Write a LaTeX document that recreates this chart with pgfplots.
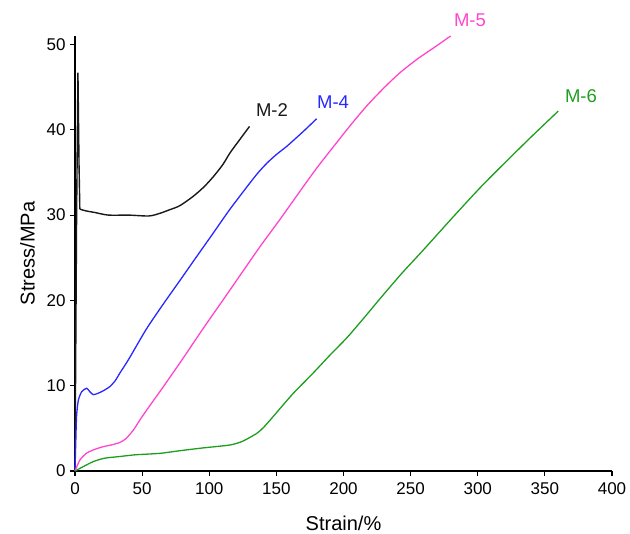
\documentclass[border=0pt]{standalone}
\usepackage{fontspec}
\setmainfont{Liberation Sans}
\usepackage{pgfplots}
\pgfplotsset{compat=1.18}

\definecolor{mtwo}{RGB}{25,25,25}
\definecolor{mfour}{RGB}{40,40,255}
\definecolor{mfive}{RGB}{255,70,205}
\definecolor{msix}{RGB}{30,158,30}

\begin{document}
\begin{tikzpicture}
  \begin{axis}[
      scale only axis,
      width=537pt,
      height=435pt,
      xmin=0, xmax=400,
      ymin=0, ymax=51,
      axis x line*=bottom,
      axis y line*=left,
      axis line style={line width=1.3pt},
      xtick={0,50,...,400},
      ytick={0,10,...,50},
      tick align=outside,
      major tick length=5pt,
      tick style={line width=1.2pt, black},
      /pgf/number format/assume math mode=true,
      ticklabel style={font=\fontsize{17}{20}\selectfont},
      xticklabel style={yshift=-3pt},
      yticklabel style={xshift=-1pt},
      label style={font=\fontsize{20}{24}\selectfont},
      xlabel={Strain/\%},
      ylabel={Stress/MPa},
      x label style={at={(axis description cs:0.5,-0.1195)}, anchor=center},
      y label style={at={(axis description cs:-0.0885,0.5)}, anchor=center},
      clip=false,
      every axis plot/.append style={line width=1.3pt}
    ]
    % M-2: yield spike, then the smooth plateau
    \addplot[mtwo, line width=1.4pt] coordinates {
      (0,0) (1.2,30) (2.2,46.7) (3.0,36) (3.6,30.7)
    };
    \addplot[mtwo, line width=1.4pt, smooth, tension=0.5] coordinates {
      (3.6,30.7) (8,30.5) (15,30.3)
      (25,30.0) (40,30.0) (55,29.9) (63,30.2) (70,30.6) (78,31.1) (88,32.2)
      (96,33.3) (103,34.5) (110,35.9) (115.5,37.3) (122,38.7) (130,40.4)
    };
    % M-4
    \addplot[mfour, smooth, tension=0.4] coordinates {
      (0,0) (0.6,3.5) (1.2,6.5) (2.5,8.3) (5,9.3) (8.7,9.7) (11,9.3)
      (13.6,8.95) (17,9.1) (21,9.4) (26,9.9) (30,10.6) (33.5,11.5) (40,13.1)
      (53,16.6) (65,19.4) (78,22.3) (90,25.0) (103,27.9) (115,30.6) (128,33.3)
      (136,34.9) (143,36.1) (150,37.1) (158,38.1) (170,39.8) (180,41.3)
    };
    % M-5
    \addplot[mfive, smooth, tension=0.4] coordinates {
      (0,0) (3.7,1.3) (8.7,2.1) (15,2.55) (21,2.85) (27,3.05) (33.5,3.35)
      (38,3.8) (43.5,4.8) (48.4,6.0) (55,7.5) (65,9.7) (80,13.1) (95,16.6)
      (110.5,20.1) (125,23.4) (137.8,26.3) (152.7,29.5) (167.6,32.8)
      (180,35.5) (192.4,38.0) (205,40.5) (217.3,42.8) (230,44.9) (242.1,46.7)
      (255,48.3) (268,49.7) (279.8,51.0)
    };
    % M-6
    \addplot[msix, smooth, tension=0.4] coordinates {
      (0,0) (6,0.5) (13.6,1.1) (22,1.5) (33.5,1.7) (45,1.9) (63.3,2.07)
      (78.2,2.38) (95,2.7) (115.5,3.05) (125,3.5) (135.3,4.4) (141,5.2)
      (147.7,6.4) (162,9.0) (177.5,11.5) (190,13.6) (202.4,15.6) (215,17.9)
      (227.2,20.2) (243,23.1) (259.4,25.9) (280,29.5) (301.7,33.2)
      (320,36.1) (340,39.2) (360,42.2)
    };
    \node[mtwo, font=\fontsize{18.5}{22}\selectfont] at (axis cs:146.7,42.3) {M-2};
    \node[mfour, font=\fontsize{18.5}{22}\selectfont] at (axis cs:192.2,43.2) {M-4};
    \node[mfive, font=\fontsize{18.5}{22}\selectfont] at (axis cs:294.2,52.9) {M-5};
    \node[msix, font=\fontsize{18.5}{22}\selectfont] at (axis cs:376.9,44.0) {M-6};
  \end{axis}
  \pgfresetboundingbox
  \useasboundingbox (-75pt,-63pt) rectangle (555pt,471pt);
\end{tikzpicture}
\end{document}
